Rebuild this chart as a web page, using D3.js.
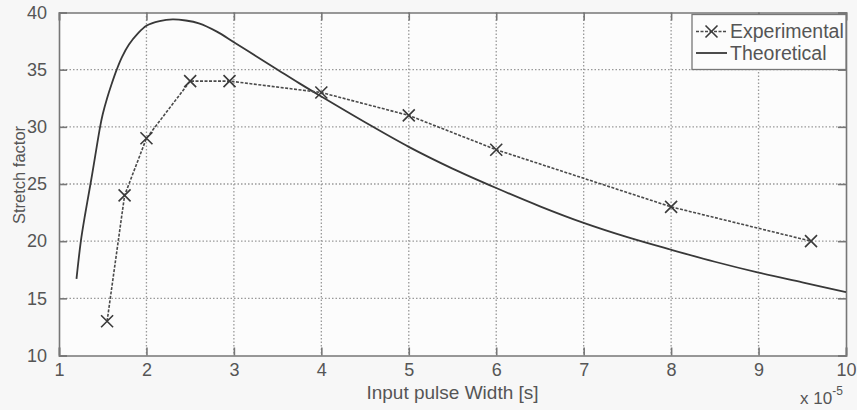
<!DOCTYPE html>
<html><head><meta charset="utf-8">
<script src="https://cdn.jsdelivr.net/npm/d3@7"></script>
<style>
html,body{margin:0;padding:0;background:#f7f7f7;}
svg{display:block;font-family:"Liberation Sans",Arial,sans-serif;}
</style></head>
<body><svg id="c" width="857" height="410"></svg>
<script>
// Data
const expX = [1.55, 1.75, 2.0, 2.5, 2.95, 4.0, 5.0, 6.0, 8.0, 9.6];
const expY = [13, 24, 29, 34, 34, 33, 31, 28, 23, 20];
const theoX = [1.2, 1.25, 1.3, 1.36, 1.4, 1.47, 1.5, 1.55, 1.6, 1.66, 1.72, 1.8, 1.9, 2.0, 2.15, 2.3, 2.45, 2.6, 2.8, 3.0, 3.25, 3.5, 3.75, 4.0, 4.5, 5.0, 5.5, 6.0, 6.5, 7.0, 7.5, 8.0, 8.5, 9.0, 9.5, 10.0];
const theoY = [16.7, 20.0, 22.4, 25.0, 26.8, 30.0, 31.1, 32.5, 33.7, 35.0, 36.1, 37.2, 38.15, 38.85, 39.25, 39.4, 39.3, 39.05, 38.35, 37.4, 36.2, 35.0, 33.8, 32.65, 30.4, 28.25, 26.35, 24.65, 23.05, 21.6, 20.35, 19.25, 18.2, 17.25, 16.4, 15.55];
const xTicks = [1, 2, 3, 4, 5, 6, 7, 8, 9, 10];
const yTicks = [10, 15, 20, 25, 30, 35, 40];
const seriesNames = ["Experimental", "Theoretical"];
const xLabel = "Input pulse Width [s]";
const yLabel = "Stretch factor";

const L = 59, R = 846, T = 12.5, B = 355.5;
const svg = d3.select("#c");
const x = d3.scaleLinear().domain([1, 10]).range([L, R]);
const y = d3.scaleLinear().domain([10, 40]).range([B, T]);
const axisCol = "#777", textCol = "#555", fs = 18;

svg.append("rect").attr("x", L).attr("y", T).attr("width", R - L).attr("height", B - T).attr("fill", "#fcfcfc");

// grid
const g = svg.append("g");
g.selectAll("line.vx").data(xTicks.slice(1, -1)).join("line")
  .attr("x1", d => x(d)).attr("x2", d => x(d)).attr("y1", T).attr("y2", B)
  .attr("stroke", "#999").attr("stroke-width", 1.3).attr("stroke-dasharray", "1.5,2");
g.selectAll("line.hy").data(yTicks.slice(1, -1)).join("line")
  .attr("y1", d => y(d)).attr("y2", d => y(d)).attr("x1", L).attr("x2", R)
  .attr("stroke", "#999").attr("stroke-width", 1.3).attr("stroke-dasharray", "1.5,2");

// axes (box with inward ticks)
const tl = 8;
const ax = svg.append("g");
const xb = ax.append("g").attr("transform", `translate(0,${B})`).call(d3.axisBottom(x).tickValues(xTicks).tickSize(-tl).tickPadding(tl + 7).tickFormat(d3.format("d")));
const xt = ax.append("g").attr("transform", `translate(0,${T})`).call(d3.axisTop(x).tickValues(xTicks).tickSize(-tl).tickFormat(""));
const yl = ax.append("g").attr("transform", `translate(${L},0)`).call(d3.axisLeft(y).tickValues(yTicks).tickSize(-tl).tickPadding(tl + 4));
const yr = ax.append("g").attr("transform", `translate(${R},0)`).call(d3.axisRight(y).tickValues(yTicks).tickSize(-tl).tickFormat(""));
[xb, xt, yl, yr].forEach(a => {
  a.select(".domain").attr("stroke", axisCol).attr("stroke-width", 1.6);
  a.selectAll(".tick line").attr("stroke", axisCol).attr("stroke-width", 1.6);
  a.selectAll(".tick text").attr("fill", textCol).attr("font-size", fs).attr("font-family", "Liberation Sans, Arial, sans-serif");
});
xb.selectAll(".tick text").attr("dy", "0.3em");

// Theoretical curve
const line = d3.line().x(d => x(d[0])).y(d => y(d[1]));
svg.append("path").datum(theoX.map((v, i) => [v, theoY[i]]))
  .attr("d", line.curve(d3.curveCatmullRom.alpha(0.5)))
  .attr("fill", "none").attr("stroke", "#383838").attr("stroke-width", 1.8);

// Experimental
const expLine = d3.line().x(d => x(d[0])).y(d => y(d[1]));
svg.append("path").datum(expX.map((v, i) => [v, expY[i]]))
  .attr("d", expLine).attr("fill", "none").attr("stroke", "#4a4a4a").attr("stroke-width", 1.6).attr("stroke-dasharray", "3,1.5");
const ms = 6;
const mk = svg.append("g").selectAll("g").data(expX.map((v, i) => [v, expY[i]])).join("g")
  .attr("transform", d => `translate(${x(d[0])},${y(d[1])})`);
mk.append("path").attr("d", `M${-ms},${-ms}L${ms},${ms}M${-ms},${ms}L${ms},${-ms}`)
  .attr("stroke", "#3a3a3a").attr("stroke-width", 1.6).attr("fill", "none");

// Legend
const lg = svg.append("g");
lg.append("rect").attr("x", 692).attr("y", 14.5).attr("width", R - 692).attr("height", 55)
  .attr("fill", "#fcfcfc").attr("stroke", axisCol).attr("stroke-width", 1.3);
const rows = [31.5, 53];
lg.append("line").attr("x1", 696).attr("x2", 727).attr("y1", rows[0]).attr("y2", rows[0])
  .attr("stroke", "#4a4a4a").attr("stroke-width", 1.6).attr("stroke-dasharray", "3,1.5");
lg.append("path").attr("d", `M${711.5 - ms},${rows[0] - ms}L${711.5 + ms},${rows[0] + ms}M${711.5 - ms},${rows[0] + ms}L${711.5 + ms},${rows[0] - ms}`)
  .attr("stroke", "#3a3a3a").attr("stroke-width", 1.6);
lg.append("line").attr("x1", 696).attr("x2", 727).attr("y1", rows[1]).attr("y2", rows[1])
  .attr("stroke", "#383838").attr("stroke-width", 1.8);
lg.selectAll("text").data(seriesNames).join("text")
  .attr("x", 730).attr("y", (d, i) => rows[i]).attr("dy", "0.35em")
  .attr("fill", textCol).attr("font-size", 19.5).text(d => d);

// Axis labels
svg.append("text").attr("x", (L + R) / 2).attr("y", 399).attr("text-anchor", "middle")
  .attr("fill", textCol).attr("font-size", 19).text(xLabel);
svg.append("text").attr("transform", `translate(25,175) rotate(-90)`).attr("text-anchor", "middle")
  .attr("fill", textCol).attr("font-size", 16.5).text(yLabel);
// exponent
const ex = svg.append("text").attr("x", 800).attr("y", 404).attr("fill", textCol).attr("font-size", 17);
ex.append("tspan").text("x 10");
ex.append("tspan").attr("dy", -9).attr("font-size", 12).text("-5");
</script></body></html>
